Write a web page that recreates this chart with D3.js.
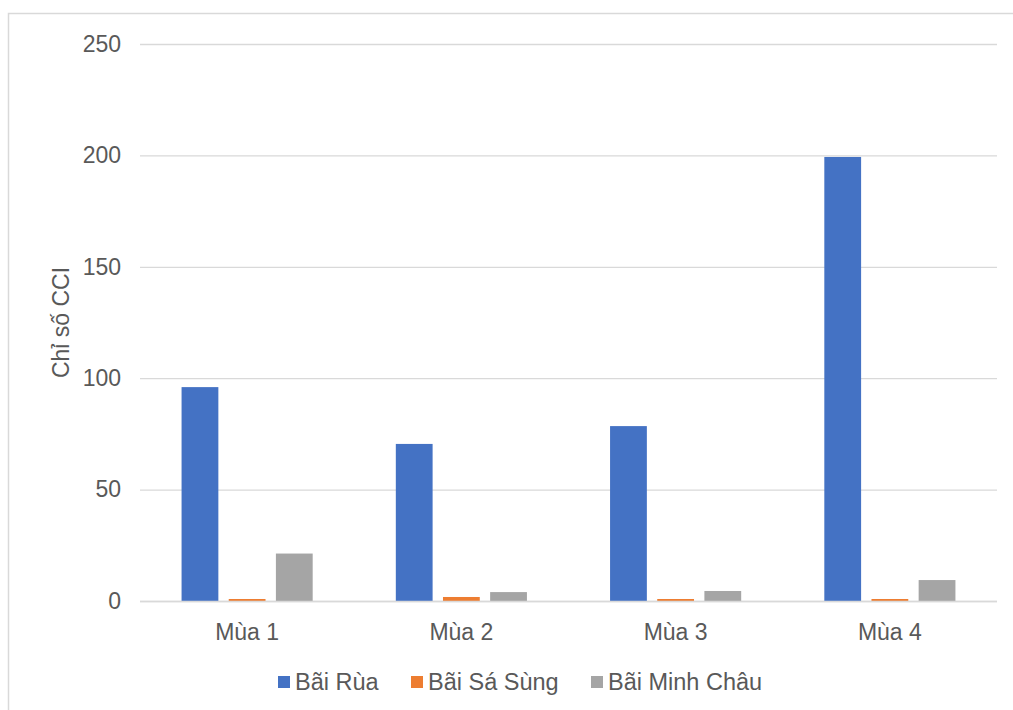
<!DOCTYPE html>
<html>
<head>
<meta charset="utf-8">
<script src="https://cdn.jsdelivr.net/npm/d3@7"></script>
<style>
  html, body { margin: 0; padding: 0; background: #fff; }
  svg { display: block; font-family: "Liberation Sans", Arial, sans-serif; }
</style>
</head>
<body>
<svg id="chart" width="1013" height="710"></svg>
<script>
// CCI index by season for three beach sites
const seasons = ["Mùa 1", "Mùa 2", "Mùa 3", "Mùa 4"];
const seriesNames = ["Bãi Rùa", "Bãi Sá Sùng", "Bãi Minh Châu"];
const baiRua = [96, 70.5, 78.5, 199.3];
const baiSaSung = [0.9, 1.8, 0.9, 0.9];
const baiMinhChau = [21.3, 4.0, 4.5, 9.4];
const yTicks = [0, 50, 100, 150, 200, 250];
const colors = ["#4472c4", "#ed7d31", "#a5a5a5"];

const seriesValues = [baiRua, baiSaSung, baiMinhChau];

const svg = d3.select("#chart");
const W = 1013, H = 710;
const FONT = "'Liberation Sans', Arial, sans-serif";

// Chart frame
svg.append("path")
  .attr("d", `M8.5,${H} V13.5 H${W}`)
  .attr("fill", "none")
  .attr("stroke", "#d9d9d9")
  .attr("stroke-width", 1.5);

const plot = { left: 140, right: 997, top: 44, bottom: 601 };

const y = d3.scaleLinear().domain([0, 250]).range([plot.bottom, plot.top]);
const x0 = d3.scaleBand().domain(seasons).range([plot.left, plot.right]).paddingInner(0.388).paddingOuter(0.194);
const x1 = d3.scaleBand().domain(seriesNames).range([0, x0.bandwidth()]).paddingInner(0.22);

// Gridlines
const grid = svg.append("g")
  .attr("transform", `translate(${plot.left},0)`)
  .call(d3.axisLeft(y).tickValues(yTicks).tickSize(-(plot.right - plot.left)).tickFormat(""));
grid.select(".domain").remove();
grid.selectAll(".tick line").attr("stroke", "#d9d9d9").attr("stroke-width", 1.3);

// Y tick labels
const yAxis = svg.append("g")
  .attr("transform", `translate(${plot.left - 19},0)`)
  .call(d3.axisLeft(y).tickValues(yTicks).tickSize(0).tickPadding(0));
yAxis.select(".domain").remove();
yAxis.selectAll("text")
  .attr("fill", "#595959")
  .style("font-size", "23px")
  .style("font-family", FONT);

// Bars
const groups = svg.append("g").selectAll("g")
  .data(seasons)
  .join("g")
  .attr("transform", d => `translate(${x0(d)},0)`);

groups.selectAll("rect")
  .data((d, i) => seriesNames.map((s, j) => ({ s, v: seriesValues[j][i], j })))
  .join("rect")
  .attr("x", d => x1(d.s))
  .attr("width", x1.bandwidth())
  .attr("y", d => y(d.v))
  .attr("height", d => y(0) - y(d.v))
  .attr("fill", d => colors[d.j]);

// Baseline
svg.append("line")
  .attr("x1", plot.left).attr("x2", plot.right)
  .attr("y1", y(0) + 0.5).attr("y2", y(0) + 0.5)
  .attr("stroke", "#d9d9d9").attr("stroke-width", 1.5);

// X category labels
const xAxis = svg.append("g")
  .attr("transform", `translate(0,${plot.bottom + 39})`)
  .call(d3.axisBottom(x0).tickSize(0).tickPadding(0));
xAxis.select(".domain").remove();
xAxis.selectAll("text")
  .attr("fill", "#595959")
  .attr("y", 0)
  .attr("dy", 0)
  .style("font-size", "23px")
  .style("font-family", FONT);

// Y axis title
svg.append("text")
  .attr("transform", `translate(69,${(plot.top + plot.bottom) / 2}) rotate(-90)`)
  .attr("text-anchor", "middle")
  .attr("fill", "#595959")
  .style("font-size", "23px")
  .text("Chỉ số CCI");

// Legend
const legendX = [278, 411, 591];
const legend = svg.append("g").selectAll("g")
  .data(seriesNames)
  .join("g")
  .attr("transform", (d, i) => `translate(${legendX[i]},676)`);
legend.append("rect")
  .attr("width", 12).attr("height", 12)
  .attr("fill", (d, i) => colors[i]);
legend.append("text")
  .attr("x", 17).attr("y", 13.5)
  .attr("fill", "#595959")
  .style("font-size", "23.5px")
  .text(d => d);
</script>
</body>
</html>
